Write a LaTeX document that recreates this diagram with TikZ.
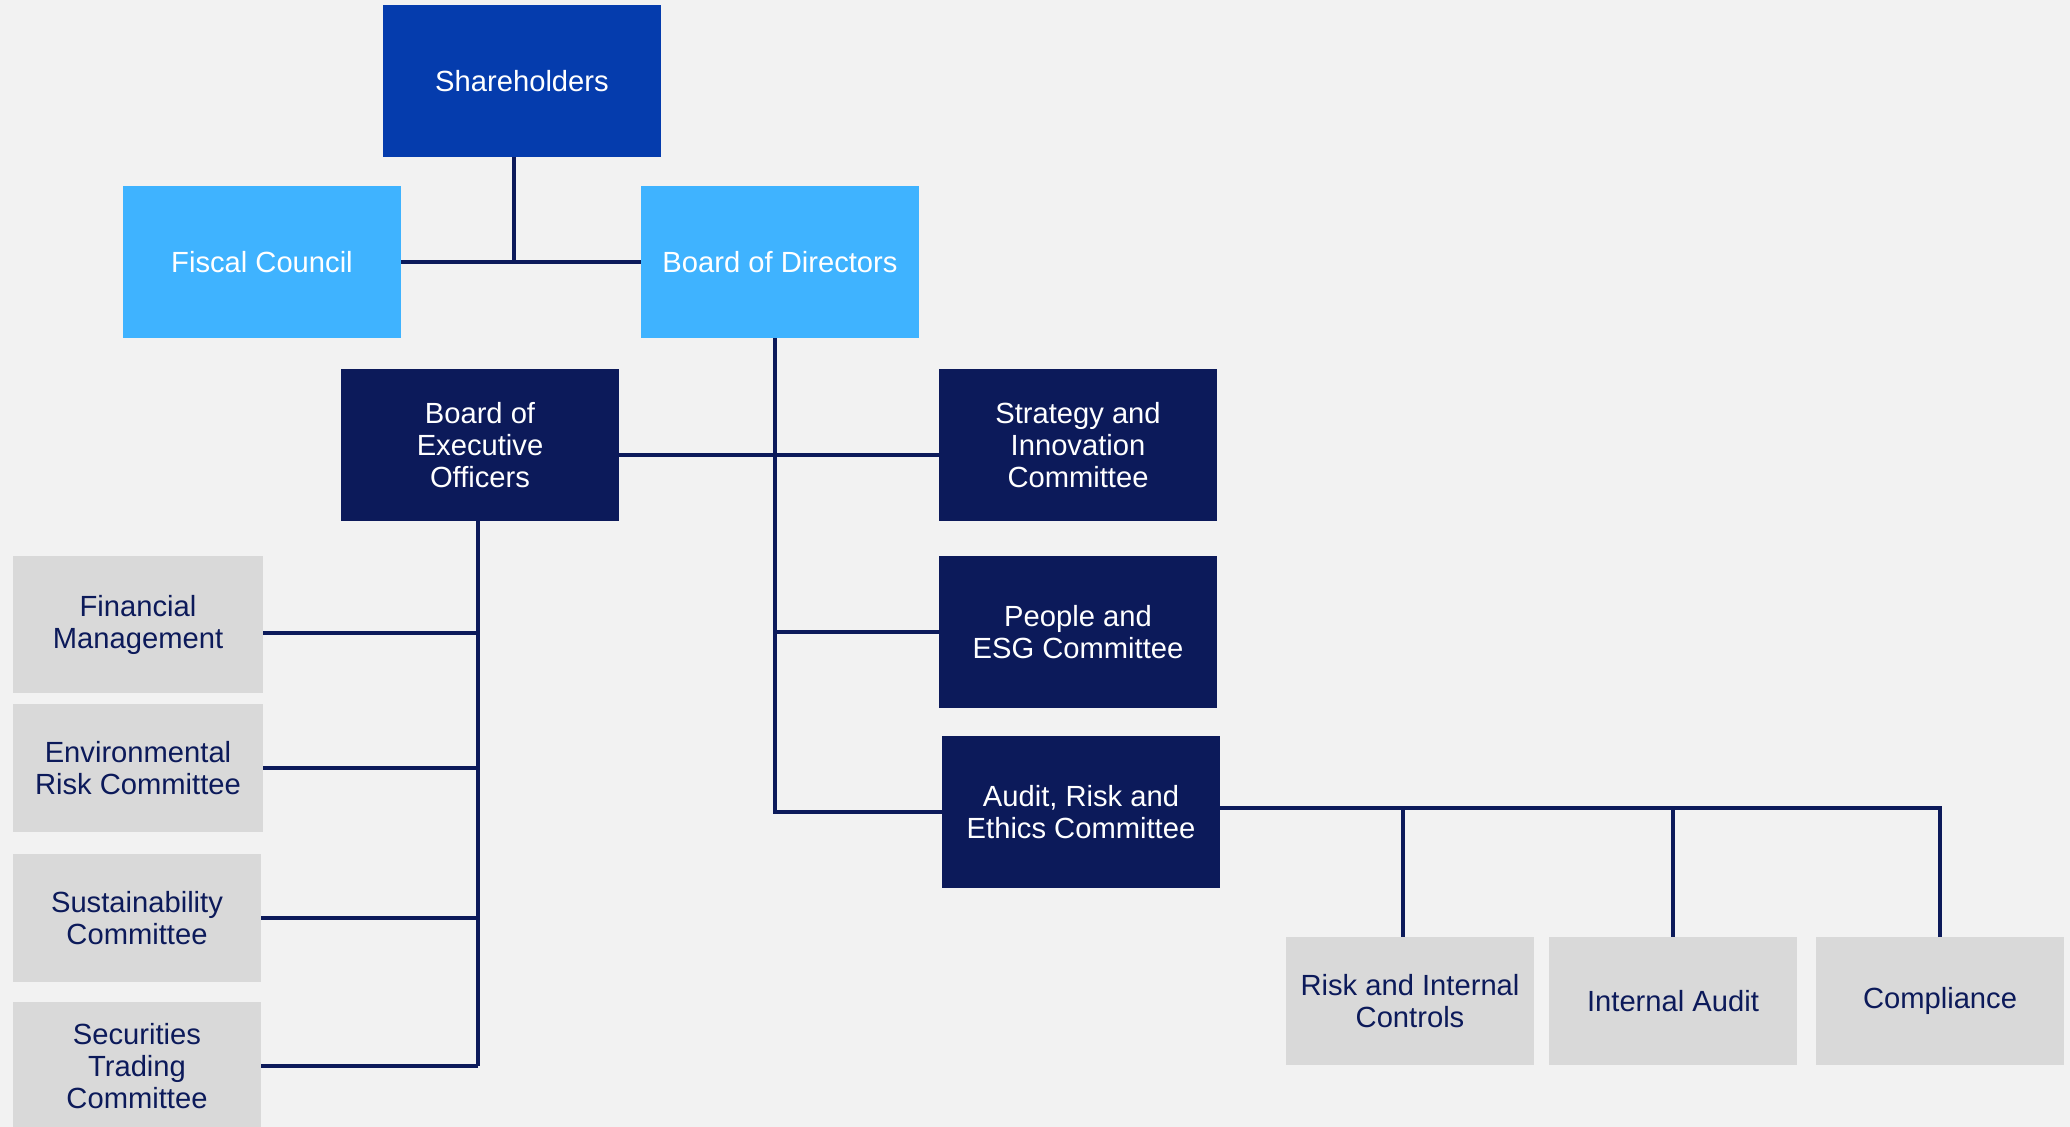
\documentclass[tikz,border=0pt]{standalone}
\usepackage{fontspec}
\setmainfont{Liberation Sans}
\usepackage{tikz}
\usetikzlibrary{positioning, calc}
\usepackage{xcolor}
\definecolor{pagegrey}{HTML}{F2F2F2}
\definecolor{royal}{HTML}{053CAD}
\definecolor{sky}{HTML}{3FB3FF}
\definecolor{navy}{HTML}{0C1A5A}
\definecolor{unitgrey}{HTML}{D9D9D9}
\tikzset{
    orgbox/.style={rectangle, inner sep=2pt, outer sep=0pt, align=center, font=\fontsize{8.3}{9.0}\selectfont},
    owner/.style={orgbox, fill=royal, text=white, minimum width=2.78cm, minimum height=1.52cm},
    board/.style={orgbox, fill=sky, text=white, minimum width=2.78cm, minimum height=1.52cm},
    committee/.style={orgbox, fill=navy, text=white, minimum width=2.78cm, minimum height=1.52cm},
    unit/.style={orgbox, fill=unitgrey, text=navy, minimum width=2.48cm, minimum height=1.28cm},
    link/.style={draw=navy, line width=1pt}
}

\begin{document}
\begin{tikzpicture}
        \fill[pagegrey] (0,0) rectangle (20.7,11.27);
        \useasboundingbox (0,0) rectangle (20.7,11.27);

        \node[owner] (share) at (5.22,10.46) {Shareholders};
        \node[board] (fiscal) at (2.62,8.65) {Fiscal Council};
        \node[board] (bod) at (7.80,8.65) {Board of Directors};

        \node[committee] (beo) at (4.80,6.82) {Board of\\Executive\\Officers};
        \node[committee] (strategy) at (10.78,6.82) {Strategy and\\Innovation\\Committee};
        \node[committee] (people) at (10.78,4.95) {People and\\ESG Committee};
        \node[committee] (audit) at (10.81,3.15) {Audit, Risk and\\Ethics Committee};

        \node[unit, minimum width=2.50cm, minimum height=1.37cm] (finance) at (1.38,5.02) {Financial\\Management};
        \node[unit, minimum width=2.50cm] (enviro) at (1.38,3.59) {Environmental\\Risk Committee};
        \node[unit] (sustain) at (1.37,2.09) {Sustainability\\Committee};
        \node[unit] (secur) at (1.37,0.61) {Securities\\Trading\\Committee};

        \node[unit] (riskctl) at (14.10,1.26) {Risk and Internal\\Controls};
        \node[unit] (intaudit) at (16.73,1.26) {Internal Audit};
        \node[unit] (comply) at (19.40,1.26) {Compliance};

        % shareholders and the two boards
        \coordinate (shj) at (5.14,8.65);
        \draw[link] (fiscal) -- (bod);
        \draw[link] (shj |- share.south) -- (shj);

        % board of directors spine
        \coordinate (bodx) at (7.75,0);
        \draw[link] (bodx |- bod.south) -- (bodx |- audit.west) -- (audit.west);
        \draw[link] ([yshift=-1mm]beo.east) -- ([yshift=-1mm]strategy.west);
        \draw[link] (bodx |- people.west) -- (people.west);

        % executive committees
        \coordinate (beox) at (4.78,0);
        \draw[link] (beox |- beo.south) -- (beox |- secur.east);
        \draw[link] ([yshift=-0.8mm]finance.east) -- ([yshift=-0.8mm]beox |- finance.east);
        \foreach \c in {enviro, sustain, secur}
            \draw[link] (\c.east) -- (beox |- \c.east);

        % audit units
        \coordinate (ctlx) at (14.03,0);
        \coordinate (audj) at ([yshift=0.4mm]audit.east);
        \draw[link] (audj) -- (comply.north |- audj) -- (comply.north);
        \draw[link] (ctlx |- riskctl.north) -- (ctlx |- audj);
        \draw[link] (intaudit.north) -- (intaudit.north |- audj);
    \end{tikzpicture}
\end{document}
